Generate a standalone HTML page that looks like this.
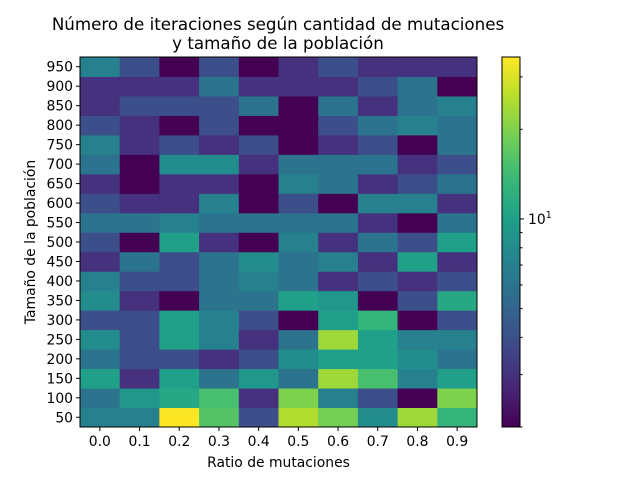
<!DOCTYPE html>
<html><head><meta charset="utf-8"><style>body{margin:0;background:#fff}svg{display:block;font-family:"DejaVu Sans","Liberation Sans",sans-serif}</style></head>
<body>
<svg id="chart" width="640" height="480">
<text x="278" y="30" text-anchor="middle" font-size="16.7">Número de iteraciones según cantidad de mutaciones</text>
<text x="278" y="49" text-anchor="middle" font-size="16.7">y tamaño de la población</text>
<g id="cells"></g><g id="axes"></g>
</svg>
<script>
const xLabels=["0.0","0.1","0.2","0.3","0.4","0.5","0.6","0.7","0.8","0.9"];
const yLabels=[50,100,150,200,250,300,350,400,450,500,550,600,650,700,750,800,850,900,950];
// rows from population 50 (bottom) up to 950 (top)
const r50=[7,7,35,16,4,25,19,8,23,13];
const r100=[6,9,11,15,3,20,7,4,2,20];
const r150=[10,3,10,6,9,6,23,15,7,10];
const r200=[6,4,4,3,4,8,10,10,8,6];
const r250=[8,4,10,7,3,6,23,10,7,7];
const r300=[4,4,10,7,4,2,10,13,2,4];
const r350=[8,3,2,6,6,10,9,2,4,11];
const r400=[7,4,4,6,7,6,3,4,3,4];
const r450=[3,6,4,6,8,6,7,3,10,3];
const r500=[4,2,10,3,2,7,3,6,4,10];
const r550=[6,6,7,6,6,6,6,3,2,6];
const r600=[4,3,3,7,2,4,2,7,7,3];
const r650=[3,2,3,3,2,7,6,3,4,6];
const r700=[6,2,8,8,3,6,6,6,3,4];
const r750=[7,3,4,3,4,2,3,4,2,6];
const r800=[4,3,2,4,2,2,4,6,7,6];
const r850=[3,4,4,4,6,2,6,3,6,7];
const r900=[3,3,3,6,3,3,3,4,6,2];
const r950=[7,4,2,4,2,3,4,3,3,3];
const rows=[r50,r100,r150,r200,r250,r300,r350,r400,r450,r500,r550,r600,r650,r700,r750,r800,r850,r900,r950];
const vmin=2,vmax=35;
const L=80,R=477,T=57,B=427,CBL=502,CBR=520;
const ns="http://www.w3.org/2000/svg";
const stops=[[68,1,84],[72,40,120],[62,74,137],[49,104,142],[38,130,142],[31,158,137],[53,183,121],[110,206,88],[181,222,43],[253,231,37]];
function viridis(t){t=Math.max(0,Math.min(1,t));const p=t*(stops.length-1),i=Math.min(Math.floor(p),stops.length-2),f=p-i;const a=stops[i],b=stops[i+1];return `rgb(${a.map((v,k)=>Math.round(v+(b[k]-v)*f)).join(",")})`;}
function norm(v){return Math.log(v/vmin)/Math.log(vmax/vmin);}
const cw=(R-L)/xLabels.length, ch=(B-T)/yLabels.length;
function xPos(i){return L+i*cw;}
function yPos(j){return B-(j+1)*ch;}
function cbY(v){return B-norm(v)*(B-T);}
const cells=document.getElementById('cells'),axes=document.getElementById('axes');
function mk(tag,attrs,parent){const e=document.createElementNS(ns,tag);for(const k in attrs)e.setAttribute(k,attrs[k]);parent.appendChild(e);return e;}
rows.forEach((row,j)=>row.forEach((v,i)=>{
 const r=mk('rect',{x:xPos(i),y:yPos(j),width:cw+0.5,height:ch+0.5,fill:viridis(norm(v))},cells);
 
 
}));
const frame=mk('rect',{x:L,y:T,width:R-L,height:B-T,fill:'none',stroke:'#000','stroke-width':1},axes);


xLabels.forEach((s,i)=>{const x=xPos(i)+cw/2;mk('line',{x1:x,x2:x,y1:B,y2:B+4,stroke:'#000'},axes);
 const t=mk('text',{x:x,y:B+19,'text-anchor':'middle','font-size':13.9},axes);t.textContent=s;
 
 });
yLabels.forEach((s,j)=>{const y=yPos(j)+ch/2;mk('line',{x1:L-4,x2:L,y1:y,y2:y,stroke:'#000'},axes);
 const t=mk('text',{x:L-7,y:y+5,'text-anchor':'end','font-size':13.9},axes);t.textContent=s;
 
 });
const xt=mk('text',{x:(L+R)/2,y:467,'text-anchor':'middle','font-size':13.9},axes);xt.textContent='Ratio de mutaciones';


const yt=mk('text',{x:0,y:0,'text-anchor':'middle','font-size':13.9,transform:`translate(35,${(T+B)/2}) rotate(-90)`},axes);yt.textContent='Tamaño de la población';


// colorbar
const defs=mk('defs',{},axes);const g=mk('linearGradient',{id:'cbg',x1:0,y1:1,x2:0,y2:0},defs);
for(let k=0;k<=20;k++)mk('stop',{offset:k/20,'stop-color':viridis(k/20)},g);
const cb=mk('rect',{x:CBL,y:T,width:CBR-CBL,height:B-T,fill:'url(#cbg)',stroke:'#000','stroke-width':1},axes);


[2,3,4,5,6,7,8,9,10,20,30].forEach(v=>{const y=cbY(v);mk('line',{x1:CBR,x2:CBR+(v===10?4:2.5),y1:y,y2:y,stroke:'#000'},axes);});
const cl=mk('text',{x:CBR+8,y:cbY(10)+5,'font-size':13.9},axes);cl.innerHTML='10<tspan dy="-6" font-size="9.5">1</tspan>';


</script>
</body></html>
